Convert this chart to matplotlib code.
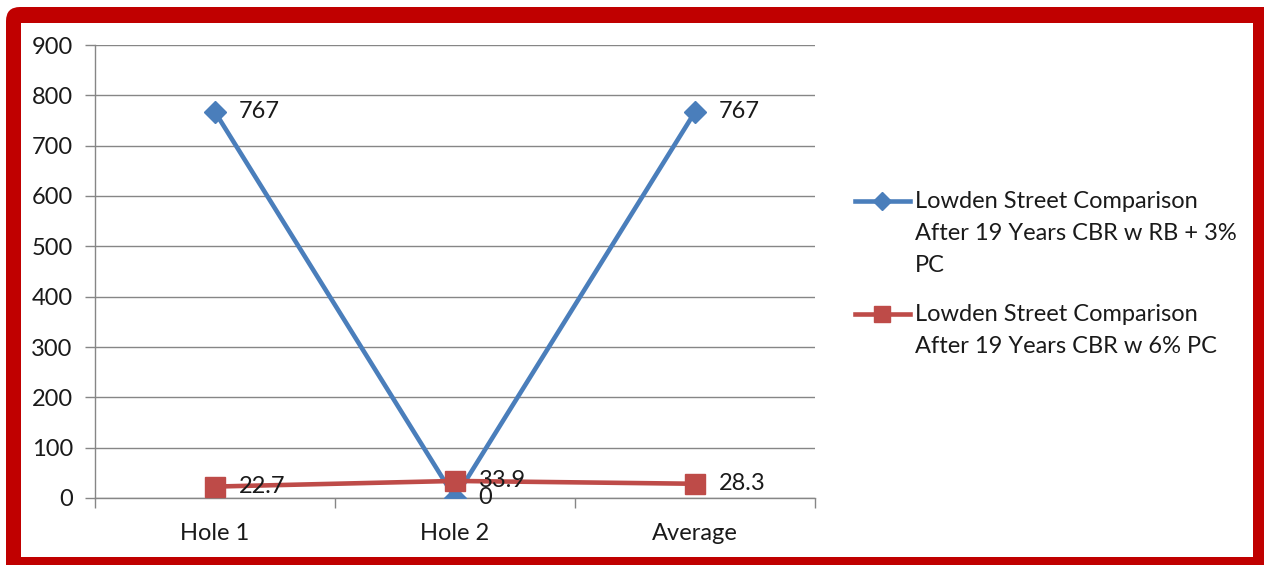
import matplotlib.pyplot as plt
from matplotlib.patches import FancyBboxPatch, Rectangle
from matplotlib.lines import Line2D

plt.rcParams['font.family'] = ['Lato', 'DejaVu Sans']

categorias = ['Hole 1', 'Hole 2', 'Average']
serie_rb = [767, 0, 767]
serie_pc = [22.7, 33.9, 28.3]
nombre_rb = 'Lowden Street Comparison\nAfter 19 Years CBR w RB + 3%\nPC'
nombre_pc = 'Lowden Street Comparison\nAfter 19 Years CBR w 6% PC'

azul = '#4A7EBB'
rojo = '#BE4B48'
gris = '#868686'
texto = '#1a1a1a'
fs = 17

W, H = 1264, 565
fig = plt.figure(figsize=(W / 100, H / 100), dpi=100)
fig.patch.set_facecolor('white')

# marco rojo con esquina redondeada (coordenadas en pixeles)
marco = FancyBboxPatch((6, -40), 1320, 558 + 40, boxstyle='round,pad=0,rounding_size=14',
                       transform=None, facecolor='#C00000', edgecolor='none', zorder=-3)
fig.add_artist(marco)
fig.add_artist(Rectangle((21, 8), 1253 - 21, 542 - 8, transform=None,
                         facecolor='white', edgecolor='none', zorder=-2))

ax = fig.add_axes([95 / W, 1 - 498 / H, (815 - 95) / W, (498 - 45) / H])
ax.set_facecolor('none')

x = list(range(len(categorias)))
ax.plot(x, serie_rb, color=azul, lw=3.3, marker='D', ms=11, zorder=3)
ax.plot(x, serie_pc, color=rojo, lw=3.3, marker='s', ms=14, zorder=4)

for xi, v in zip(x, serie_rb):
    ax.annotate(f'{v:g}', (xi, v), xytext=(17, 0), textcoords='offset points',
                va='center', ha='left', fontsize=fs, color=texto, zorder=5)
for xi, v in zip(x, serie_pc):
    ax.annotate(f'{v:g}', (xi, v), xytext=(17, 0), textcoords='offset points',
                va='center', ha='left', fontsize=fs, color=texto, zorder=5)

ax.set_xlim(-0.5, 2.5)
ax.set_ylim(0, 900)
ax.set_yticks(range(0, 901, 100))
ax.set_xticks(x)
ax.set_xticklabels(categorias)
ax.set_xticks([-0.5, 0.5, 1.5, 2.5], minor=True)
ax.tick_params(axis='x', which='major', length=0, pad=18, labelsize=fs, labelcolor=texto)
ax.tick_params(axis='x', which='minor', length=7, width=1, color=gris)
ax.tick_params(axis='y', length=7, width=1, color=gris, labelsize=fs, labelcolor=texto, pad=9)
ax.grid(axis='y', color=gris, lw=1)
ax.set_axisbelow(True)
for lado in ['top', 'right']:
    ax.spines[lado].set_visible(False)
for lado in ['left', 'bottom']:
    ax.spines[lado].set_color(gris)
    ax.spines[lado].set_linewidth(1)

# leyenda a mano, con el simbolo alineado a la primera linea del texto
def entrada(y_px, color, marcador, ms, etiqueta):
    yf = 1 - y_px / H
    fig.add_artist(Line2D([855 / W, 910 / W], [yf, yf], color=color, lw=3.3))
    fig.add_artist(Line2D([882 / W], [yf], color=color, marker=marcador, ms=ms, lw=0))
    fig.text(915 / W, yf + 10 / H, etiqueta, fontsize=fs, color=texto,
             va='top', ha='left', linespacing=1.65)

entrada(201, azul, 'D', 9, nombre_rb)
entrada(314, rojo, 's', 11, nombre_pc)

fig.savefig('out.png', dpi=100)
